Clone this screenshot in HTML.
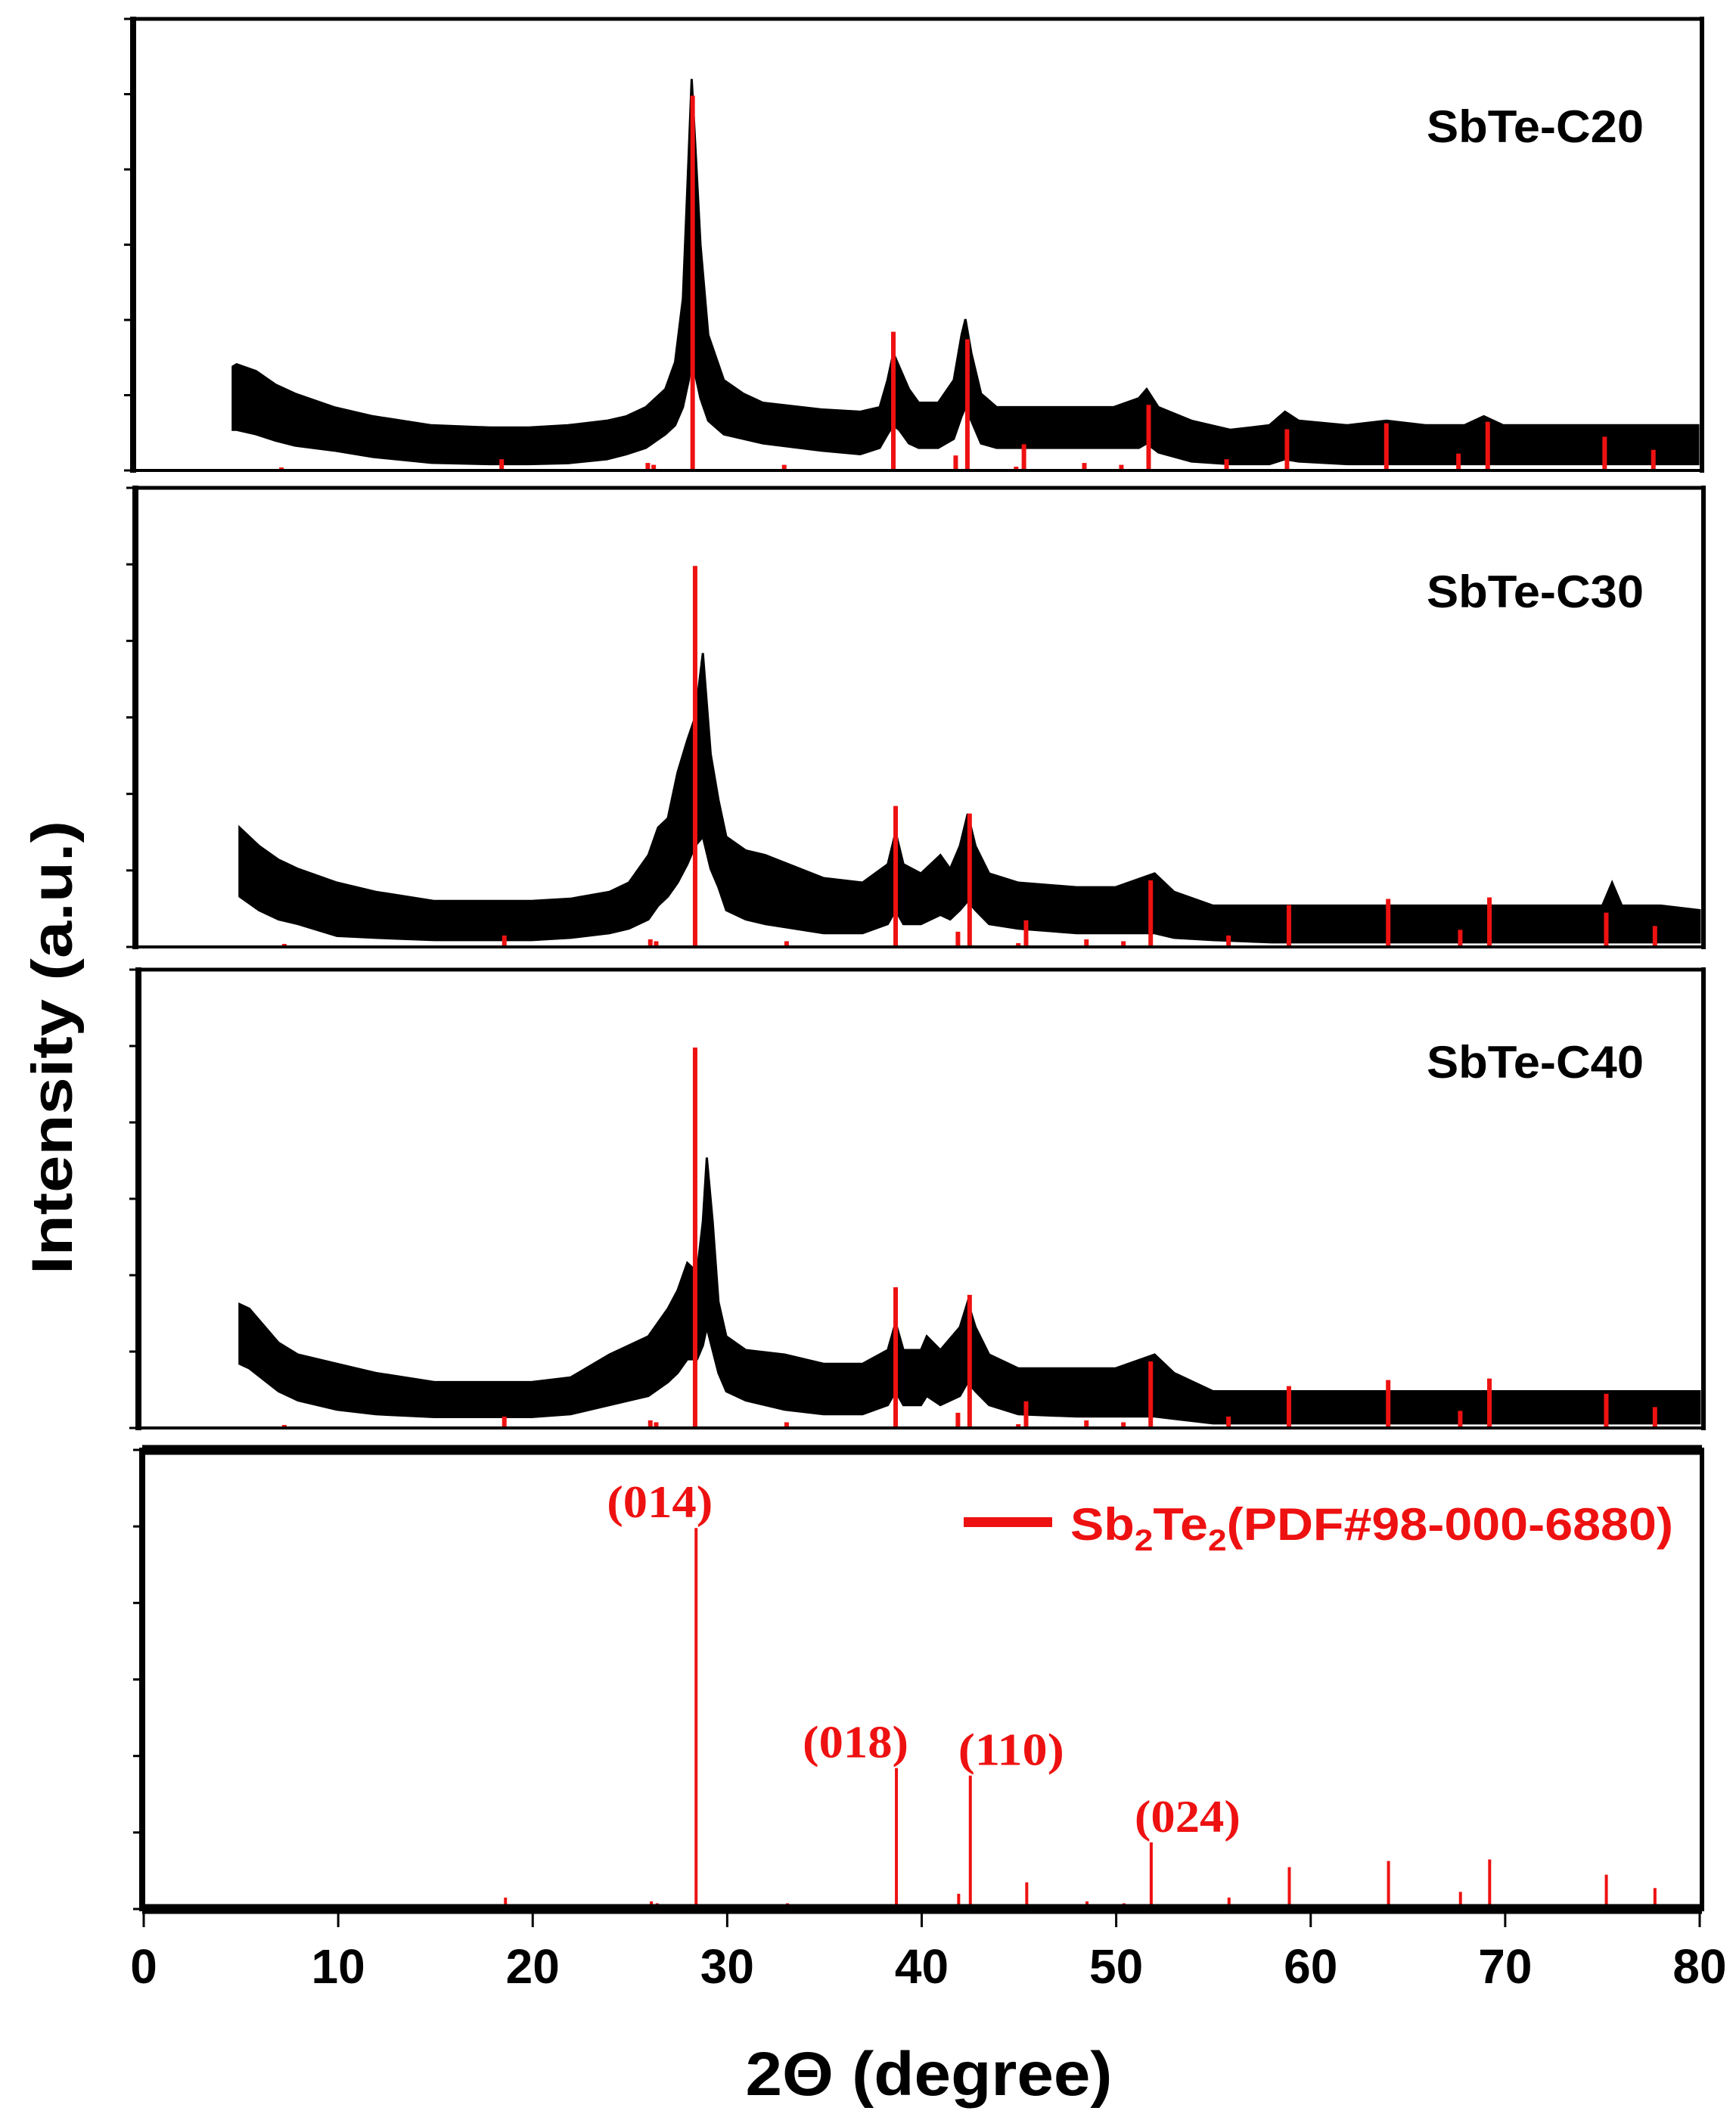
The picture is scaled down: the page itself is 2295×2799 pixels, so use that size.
<!DOCTYPE html>
<html><head><meta charset="utf-8">
<style>
html,body{margin:0;padding:0;background:#fff;}
svg{display:block;}
text{font-family:"Liberation Sans",sans-serif;}
</style></head>
<body>
<svg id="chart" width="2295" height="2799" viewBox="0 0 2295 2799" xmlns="http://www.w3.org/2000/svg"></svg>
<script>
// ---- data ----
const refAngles = [7.3, 18.6, 26.1, 26.4, 28.4, 33.1, 38.7, 41.9, 42.5, 45.0, 45.4, 48.5, 50.4, 51.8, 55.8, 58.9, 64.0, 67.7, 69.2, 75.2, 77.7];
const refIntensity = [0.8, 3, 2, 1.5, 100, 1.5, 37, 4, 35, 1, 7, 2, 1.5, 17.5, 3, 11, 12.6, 4.5, 13, 9, 5.5];
const hklLabels = ["(014)", "(018)", "(110)", "(024)"];
const hklAngles = [28.4, 38.7, 42.5, 51.8];
const xTicks = [0, 10, 20, 30, 40, 50, 60, 70, 80];
const sampleNames = ["SbTe-C20", "SbTe-C30", "SbTe-C40"];

const ang1 = [4.8,5,6,7,8,10,12,15,18,20,22,24,25,26,27,27.5,27.9,28.2,28.35,28.5,28.8,29.2,30,31,32,35,37,38,38.4,38.7,39.0,39.5,40,41,41.8,42.2,42.4,42.7,43.2,44,46,48,50,51.3,51.7,52.3,54,56,58,58.8,59.5,62,64,66,68,69,70,72,75,78,80];
const up1 = [23,23.5,22,19,17,14,12,10,9.5,9.5,10,11,12,14,18,24,38,70,86.7,75,50,30,20,17,15,13.5,13,14,20,26,23,18,15,15,20,30,33.5,26,17,14,14,14,14,16,18,14,11,9,10,13,11,10,11,10,10,12,10,10,10,10,10];
const lo1 = [9,9,8,6.6,5.5,4.4,3,1.7,1.4,1.4,1.6,2.5,3.6,5,8,10,14,20,25,22,16,11,8,7,6,4.4,3.6,5,8,10,9,6,5,5,7,12,14,11,6,5,5,5,5,5,6,4,2,1.4,1.4,2.5,2,1.4,1.4,1.4,1.4,1.4,1.4,1.4,1.4,1.4,1.4];

const ang2 = [5,6,7,8,10,12,15,18,20,22,24,25,26,26.5,27,27.5,28,28.4,28.8,29.2,29.6,30,31,32,35,37,38.3,38.7,39.1,40,41,41.5,42,42.4,42.8,43.5,45,48,50,52,53,55,58,60,65,70,75,75.5,76,78,80];
const up2 = [26,22,19,17,14,12,10,10,10,10.5,12,14,20,26,28,38,45,50,64,42,32,24,21,20,15,14,18,25,18,16,20,17,22,29,22,16,14,13,13,16,12,9,9,9,9,9,9,14,9,9,8];
const lo2 = [11,8,6,5,2.4,2,1.5,1.5,1.5,2,3,4,6,9,11,14,18,22,24,17,13,8,6,5,3,3,5,8,5,5,7,6,8,10,8,5,4,3,3,3,2,1.5,1,1,1,1,1,1,1,1,1];

const ang3 = [5,5.5,7,8,10,12,15,18,20,22,24,26,27,27.5,28,28.5,28.8,29,29.3,29.6,30,31,33,35,37,38.3,38.7,39.1,40,40.3,41,42,42.4,42.8,43.5,45,48,50,52,53,55,58,60,65,70,75,80];
const up3 = [27,26,18.6,16,14,12,10,10,10,11,16,20,26,30,36,34,45,59,45,27.5,20,17,16,14,14,17,23,17,17,20,17,22,27.5,22,16,13,13,13,16,12,8,8,8,8,8,8,8];
const lo3 = [14,13,8,6,4,3,2.4,2.4,2.4,3,5,7,10,12,15,15,18,22,17,12,8,6,4,3,3,5,8,5,5,7,5,7,10,8,5,3,2.5,2.5,2.5,2,1,1,1,1,1,1,1];

// ---- layout ----
const NS = "http://www.w3.org/2000/svg";
const svg = document.getElementById("chart");
function mk(tag, attrs, parent) {
  const e = document.createElementNS(NS, tag);
  for (const k in attrs) e.setAttribute(k, attrs[k]);
  (parent || svg).appendChild(e);
  return e;
}
const panels = [
  {left:176, right:2250, top:25, bottom:622, x0:184, x80:2245, ang:ang1, up:up1, lo:lo1, label:sampleNames[0], ly:188},
  {left:179, right:2252, top:645, bottom:1252, x0:188, x80:2247, ang:ang2, up:up2, lo:lo2, label:sampleNames[1], ly:803},
  {left:183, right:2252, top:1282, bottom:1888, x0:188, x80:2247, ang:ang3, up:up3, lo:lo3, label:sampleNames[2], ly:1425},
  {left:188, right:2250, top:1917, bottom:2524, x0:190, x80:2247, ref:true}
];
const REF_SCALE = 0.83;
const hklOffsets = [-48, -54, 54, 48];

panels.forEach((p, pi) => {
  const g = mk("g", {});
  
  
  const H = p.bottom - p.top;
  const xs = a => p.x0 + (a / 80) * (p.x80 - p.x0);
  const ys = v => p.bottom - (v / 100) * H;

  if (p.ang) {
    let pts = [];
    p.ang.forEach((a, i) => pts.push(xs(a).toFixed(1) + "," + ys(p.up[i]).toFixed(1)));
    for (let i = p.ang.length - 1; i >= 0; i--) pts.push(xs(p.ang[i]).toFixed(1) + "," + ys(p.lo[i]).toFixed(1));
    const poly = mk("polygon", {points: pts.join(" "), fill: "#000", stroke: "#000", "stroke-width": 3, "stroke-linejoin": "miter"}, g);
    
    
  }
  refAngles.forEach((a, i) => {
    const ln = mk("line", {x1: xs(a), x2: xs(a), y1: p.bottom, y2: ys(refIntensity[i] * REF_SCALE),
      stroke: "#ee1111", "stroke-width": p.ref ? 4 : 6}, g);
    
    
  });
  mk("line", {x1: p.left, x2: p.right, y1: p.top, y2: p.top, stroke: "#000", "stroke-width": p.ref ? 13 : 5}, g);
  mk("line", {x1: p.left, x2: p.right, y1: p.bottom, y2: p.bottom, stroke: "#000", "stroke-width": p.ref ? 13 : 4}, g);
  mk("line", {x1: p.left, x2: p.left, y1: p.top - 3, y2: p.bottom + 3, stroke: "#000", "stroke-width": 8}, g);
  mk("line", {x1: p.right, x2: p.right, y1: p.top - 3, y2: p.bottom + 3, stroke: "#000", "stroke-width": 6}, g);
  for (let k = 0; k <= 6; k++) {
    const y = p.top + k * H / 6;
    mk("line", {x1: p.left - 12, x2: p.left, y1: y, y2: y, stroke: "#000", "stroke-width": 3}, g);
  }
  if (p.label) {
    const t = mk("text", {x: 2173, y: p.ly, "text-anchor": "end", "font-size": 60, "font-weight": "bold", fill: "#000", textLength: 287, lengthAdjust: "spacingAndGlyphs"}, g);
    t.textContent = p.label;
    
    
  }
  if (p.ref) {
    xTicks.forEach(v => {
      const x = xs(v);
      mk("line", {x1: x, x2: x, y1: p.bottom, y2: p.bottom + 24, stroke: "#000", "stroke-width": 3}, g);
      const t = mk("text", {x: x, y: 2622, "text-anchor": "middle", "font-size": 64, "font-weight": "bold", fill: "#000"}, g);
      t.textContent = v;
      
      
    });
    hklLabels.forEach((s, i) => {
      const ai = refAngles.indexOf(hklAngles[i]);
      const y = ys(refIntensity[ai] * REF_SCALE) - 14;
      const t = mk("text", {x: xs(hklAngles[i]) + hklOffsets[i], y: y, "text-anchor": "middle", "font-size": 60, "font-weight": "bold", fill: "#ee1111", textLength: 140, lengthAdjust: "spacingAndGlyphs", style: "font-family:'Liberation Serif',serif"}, g);
      t.textContent = s;
      
      
    });
    const lg = mk("g", {}, g);
    
    
    mk("rect", {x: 1274, y: 2006, width: 117, height: 13, fill: "#ee1111"}, lg);
    const lt = mk("text", {x: 1415, y: 2036, "font-size": 60, "font-weight": "bold", fill: "#ee1111", textLength: 797, lengthAdjust: "spacingAndGlyphs"}, lg);
    lt.innerHTML = 'Sb<tspan font-size="40" dy="14">2</tspan><tspan dy="-14">Te</tspan><tspan font-size="40" dy="14">2</tspan><tspan dy="-14">(PDF#98-000-6880)</tspan>';
  }
});

const xt = mk("text", {x: 1228, y: 2770, "text-anchor": "middle", "font-size": 82, "font-weight": "bold", fill: "#000", textLength: 485, lengthAdjust: "spacingAndGlyphs"});
xt.textContent = "2Θ (degree)";


const yt = mk("text", {x: 0, y: 0, "text-anchor": "middle", "font-size": 76, "font-weight": "bold", fill: "#000", textLength: 600, lengthAdjust: "spacingAndGlyphs", transform: "translate(95,1385) rotate(-90)"});
yt.textContent = "Intensity (a.u.)";


</script>
</body></html>
